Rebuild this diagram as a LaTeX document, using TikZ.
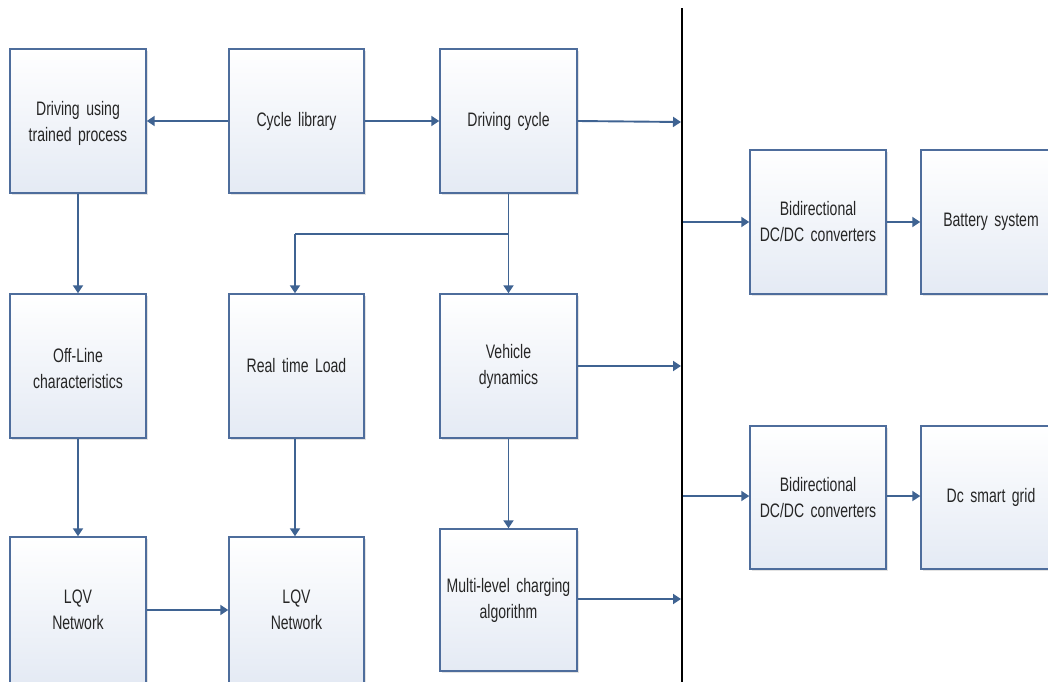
\documentclass[tikz,border=0pt]{standalone}
\usepackage{fontspec}
\setmainfont[FakeStretch=0.72]{Liberation Sans}
\usetikzlibrary{arrows.meta,shadows}
\definecolor{boxedge}{HTML}{4E6D9C}
\definecolor{boxbot}{HTML}{E4EAF4}
\definecolor{linkcol}{HTML}{3F6392}
\definecolor{txtcol}{HTML}{262626}
\newcommand{\boxfont}{\fontsize{19.5}{26}\selectfont}
\begin{document}
\begin{tikzpicture}[x=1pt,y=-1pt,
  blockbox/.style={rectangle, draw=boxedge, line width=1.4pt,
    top color=white, bottom color=boxbot,
    drop shadow={shadow xshift=2pt, shadow yshift=-2pt, fill=black!18, opacity=0.6},
    minimum width=136pt, minimum height=144pt, inner sep=2pt,
    text width=130pt, align=center, text=txtcol,
    font=\boxfont},
  link/.style={draw=linkcol, line width=1.9pt,
    -{Triangle[length=8pt,width=10pt]}},
  plainlink/.style={draw=linkcol, line width=1.9pt},
  divider/.style={draw=black, line width=1.3pt}]
\clip (0,0) rectangle (1048,681);
\useasboundingbox (0,0) rectangle (1048,681);

% top row
\node[blockbox] (drv) at (78,121) {\strut Driving using\\trained process};
\node[blockbox, minimum width=135pt] (cyc) at (296.5,121) {Cycle library};
\node[blockbox, minimum width=137pt] (dcy) at (508.5,121) {Driving cycle};

% middle row
\node[blockbox] (off) at (78,366) {\strut Off-Line\\characteristics};
\node[blockbox, minimum width=135pt] (rtl) at (296.5,366) {Real time Load};
\node[blockbox, minimum width=137pt] (veh) at (508.5,366) {Vehicle\\dynamics};

% bottom row
\node[blockbox, minimum height=146pt] (lqa) at (78,610) {LQV\\Network};
\node[blockbox, minimum width=135pt, minimum height=146pt] (lqb) at (296.5,610) {LQV\\Network\\[6pt]};
\node[blockbox, minimum width=137pt, minimum height=142pt] (mla) at (508.5,600) {Multi-level charging\\algorithm};

% right-hand side
\node[blockbox] (bd1) at (818,222) {Bidirectional\\DC/DC converters};
\node[blockbox, minimum width=140pt] (bat) at (991,222) {Battery system};
\node[blockbox, minimum height=143pt] (bd2) at (818,497.5) {Bidirectional\\DC/DC converters};
\node[blockbox, minimum width=140pt, minimum height=143pt] (grid) at (991,497.5) {Dc smart grid};

% divider and its connection points
\coordinate (vtop) at (682,8);
\coordinate (vbot) at (682,690);
\draw[divider] (vtop) -- (vbot);
\coordinate (in1) at (681,122);
\coordinate (in2) at (681,366);
\coordinate (in3) at (681,599);
\coordinate (out1) at (683,222);
\coordinate (out2) at (683,496);
\coordinate (split) at (508.5,234);
\coordinate (bend) at (295,234);

% connectors
\draw[link] (cyc.west) -- (drv.east);
\draw[link] (cyc.east) -- (dcy.west);
\draw[link] (dcy.east) -- (in1);
\draw[link] (drv.south) -- (off.north);
\draw[link] (dcy.south) -- (veh.north);
\draw[plainlink] (split) -- (bend);
\draw[link] (bend) -- (bend |- rtl.north);
\draw[link] (off.south) -- (lqa.north);
\draw[link] (rtl.south -| bend) -- (bend |- lqb.north);
\draw[link] (lqa.east) -- (lqb.west);
\draw[link] (veh.south) -- (mla.north);
\draw[link] (veh.east) -- (in2);
\draw[link] (mla.east |- in3) -- (in3);
\draw[link] (out1) -- (bd1.west);
\draw[link] (bd1.east) -- (bat.west);
\draw[link] (out2) -- (bd2.west |- out2);
\draw[link] (bd2.east |- out2) -- (grid.west |- out2);
\end{tikzpicture}
\end{document}
